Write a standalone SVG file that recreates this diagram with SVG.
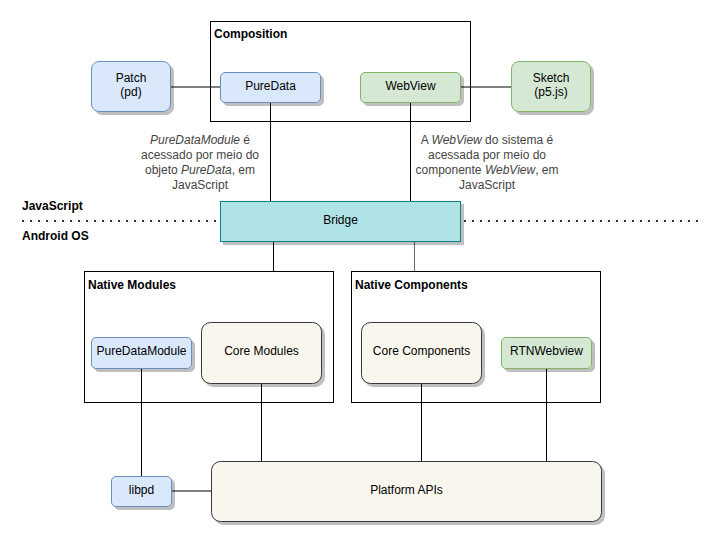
<svg xmlns="http://www.w3.org/2000/svg" width="723" height="545" viewBox="0 0 723 545">
<style>
text{font-family:"Liberation Sans",Arial,sans-serif;font-size:12px;fill:#000}
.c{text-anchor:middle}
.b{font-weight:bold}
.note{fill:#444;text-anchor:middle}
.blue{fill:#dae8fc;stroke:#6c8ebf}
.green{fill:#d5e8d4;stroke:#82b366}
.beige{fill:#f9f7ed;stroke:#36393d}
.teal{fill:#b0e3e6;stroke:#0e8088}
.box{fill:#fff;stroke:#000}
.sh{filter:url(#shadow)}
#connectors line{stroke:#000;stroke-width:1}
.dot{stroke:#333;stroke-width:2;stroke-dasharray:2 6}
</style>
<defs>
<filter id="shadow" x="-10%" y="-10%" width="130%" height="140%">
<feDropShadow dx="3" dy="3" stdDeviation="0.6" flood-color="#000" flood-opacity="0.25"/>
</filter>
</defs>
<rect width="723" height="545" fill="#fff"/>

<g id="layers">
<line class="dot" x1="22" y1="221" x2="216" y2="221"/>
<line class="dot" x1="464" y1="221" x2="698" y2="221"/>
<text class="b" x="22" y="210">JavaScript</text>
<text class="b" x="22" y="240">Android OS</text>
</g>

<g id="composition">
<rect class="box" x="210.5" y="21.5" width="260" height="100"/>
<text class="b" x="214" y="38">Composition</text>
</g>
<g id="native-modules">
<rect class="box" x="84.5" y="271.5" width="249" height="131"/>
<text class="b" x="88" y="289">Native Modules</text>
</g>
<g id="native-components">
<rect class="box" x="351.5" y="271.5" width="249" height="131"/>
<text class="b" x="355" y="289">Native Components</text>
</g>

<g id="connectors">
<line x1="170" y1="87" x2="220" y2="87"/>
<line x1="460" y1="87" x2="511" y2="87"/>
<line x1="270.5" y1="102" x2="270.5" y2="201"/>
<line x1="410.5" y1="102" x2="410.5" y2="201"/>
<line x1="273.5" y1="241" x2="273.5" y2="271"/>
<line x1="414.5" y1="241" x2="414.5" y2="271" style="stroke:#666"/>
<line x1="141.5" y1="368" x2="141.5" y2="476"/>
<line x1="261.5" y1="382" x2="261.5" y2="461"/>
<line x1="421.5" y1="382" x2="421.5" y2="461"/>
<line x1="546.5" y1="368" x2="546.5" y2="461"/>
<line x1="171" y1="491" x2="211" y2="491"/>
</g>

<g id="note-puredata">
<text class="note" x="200" y="144"><tspan font-style="italic">PureDataModule</tspan> é</text>
<text class="note" x="200" y="159">acessado por meio do</text>
<text class="note" x="200" y="174">objeto <tspan font-style="italic">PureData</tspan>, em</text>
<text class="note" x="200" y="189">JavaScript</text>
</g>
<g id="note-webview">
<text class="note" x="487" y="144">A <tspan font-style="italic">WebView</tspan> do sistema é</text>
<text class="note" x="487" y="159">acessada por meio do</text>
<text class="note" x="487" y="174">componente <tspan font-style="italic">WebView</tspan>, em</text>
<text class="note" x="487" y="189">JavaScript</text>
</g>

<g id="patch">
<rect class="blue sh" x="91.5" y="61.5" width="79" height="50" rx="7.5"/>
<text class="c" x="131" y="82">Patch</text>
<text class="c" x="131" y="96">(pd)</text>
</g>
<g id="puredata">
<rect class="blue sh" x="220.5" y="72.5" width="100" height="30" rx="4.5"/>
<text class="c" x="270.5" y="90">PureData</text>
</g>
<g id="webview">
<rect class="green sh" x="360.5" y="72.5" width="100" height="30" rx="4.5"/>
<text class="c" x="410.5" y="90">WebView</text>
</g>
<g id="sketch">
<rect class="green sh" x="511.5" y="61.5" width="79" height="50" rx="7.5"/>
<text class="c" x="551" y="82">Sketch</text>
<text class="c" x="551" y="96">(p5.js)</text>
</g>
<g id="bridge">
<rect class="teal sh" x="220.5" y="201.5" width="240" height="40"/>
<text class="c" x="340.5" y="223.5">Bridge</text>
</g>
<g id="puredatamodule">
<rect class="blue sh" x="91.5" y="337.5" width="100" height="31" rx="4.5"/>
<text class="c" x="141.5" y="355">PureDataModule</text>
</g>
<g id="core-modules">
<rect class="beige sh" x="201.5" y="322.5" width="120" height="61" rx="9"/>
<text class="c" x="261.5" y="355">Core Modules</text>
</g>
<g id="core-components">
<rect class="beige sh" x="361.5" y="322.5" width="120" height="61" rx="9"/>
<text class="c" x="421.5" y="355">Core Components</text>
</g>
<g id="rtnwebview">
<rect class="green sh" x="501.5" y="337.5" width="90" height="31" rx="4.5"/>
<text class="c" x="546.5" y="355">RTNWebview</text>
</g>
<g id="libpd">
<rect class="blue sh" x="111.5" y="476.5" width="60" height="30" rx="4.5"/>
<text class="c" x="141.5" y="494">libpd</text>
</g>
<g id="platform-apis">
<rect class="beige sh" x="211.5" y="461.5" width="390" height="60" rx="9"/>
<text class="c" x="406.5" y="494">Platform APIs</text>
</g>
</svg>
